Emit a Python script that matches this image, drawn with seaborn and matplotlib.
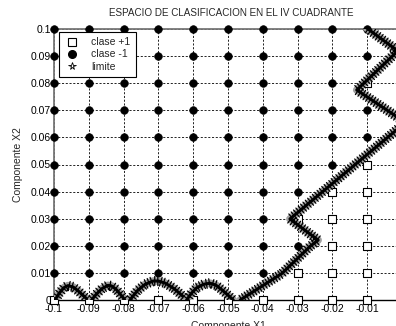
import numpy as np
import pandas as pd
import matplotlib
matplotlib.use("Agg")
import matplotlib.pyplot as plt
import seaborn as sns
from matplotlib import patheffects as pe
from matplotlib.lines import Line2D

# ---- data ----
x_grid = [-0.1, -0.09, -0.08, -0.07, -0.06, -0.05, -0.04, -0.03, -0.02, -0.01]
y_grid = [0.1, 0.09, 0.08, 0.07, 0.06, 0.05, 0.04, 0.03, 0.02, 0.01, 0.0]
clase = [
    [-1, -1, -1, -1, -1, -1, -1, -1, -1, -1],
    [-1, -1, -1, -1, -1, -1, -1, -1, -1, -1],
    [-1, -1, -1, -1, -1, -1, -1, -1, -1, 1],
    [-1, -1, -1, -1, -1, -1, -1, -1, -1, -1],
    [-1, -1, -1, -1, -1, -1, -1, -1, -1, -1],
    [-1, -1, -1, -1, -1, -1, -1, -1, -1, 1],
    [-1, -1, -1, -1, -1, -1, -1, -1, 1, 1],
    [-1, -1, -1, -1, -1, -1, -1, 1, 1, 1],
    [-1, -1, -1, -1, -1, -1, -1, -1, 1, 1],
    [-1, -1, -1, -1, -1, -1, -1, 1, 1, 1],
    [1, 1, 1, 1, 1, 1, 1, 1, 1, 1],
]

lim1_x = [-0.0997, -0.0985, -0.0972, -0.0960, -0.0945, -0.0930, -0.0915, -0.0902]
lim1_y = [0.0, 0.0025, 0.0045, 0.0053, 0.0048, 0.0033, 0.0015, 0.0]
lim2_x = [-0.0892, -0.0878, -0.0862, -0.0845, -0.0835, -0.0822, -0.0810, -0.0796]
lim2_y = [0.0, 0.0022, 0.0042, 0.0054, 0.0052, 0.0040, 0.0022, 0.0]
lim3_x = [-0.0782, -0.0760, -0.0738, -0.0715, -0.0700, -0.0680, -0.0655, -0.0635, -0.0618]
lim3_y = [0.0, 0.0035, 0.0058, 0.0070, 0.0070, 0.0062, 0.0042, 0.0020, 0.0]
lim4_x = [-0.0619, -0.0605, -0.0590, -0.0570, -0.0552, -0.0535, -0.0518, -0.0500, -0.0485]
lim4_y = [0.0, 0.0025, 0.0045, 0.0058, 0.0062, 0.0055, 0.0038, 0.0018, 0.0]
lim5_x = [-0.0465, -0.0345, -0.0264, -0.0241, -0.0322, 0.0010, -0.0130, -0.0012, -0.0101]
lim5_y = [0.0, 0.0098, 0.0198, 0.0221, 0.0299, 0.0655, 0.0775, 0.0919, 0.1003]

x_ticks = [-0.1, -0.09, -0.08, -0.07, -0.06, -0.05, -0.04, -0.03, -0.02, -0.01]
x_ticklabels = ["-0.1", "-0.09", "-0.08", "-0.07", "-0.06", "-0.05", "-0.04",
                "-0.03", "-0.02", "-0.01"]
y_ticks = [0.0, 0.01, 0.02, 0.03, 0.04, 0.05, 0.06, 0.07, 0.08, 0.09, 0.1]
y_ticklabels = ["0", "0.01", "0.02", "0.03", "0.04", "0.05", "0.06", "0.07",
                "0.08", "0.09", "0.1"]

# ---- tables ----
rows = []
for yi, yv in enumerate(y_grid):
    for xi, xv in enumerate(x_grid):
        rows.append({"x": xv, "y": yv, "clase": clase[yi][xi]})
pts = pd.DataFrame(rows)

pieces = [(lim1_x, lim1_y), (lim2_x, lim2_y), (lim3_x, lim3_y),
          (lim4_x, lim4_y), (lim5_x, lim5_y)]
lim_rows = []
for k, (px, py) in enumerate(pieces):
    for i, (a, b) in enumerate(zip(px, py)):
        lim_rows.append({"x": a, "y": b, "pieza": k, "orden": i})
lim = pd.DataFrame(lim_rows)

# ---- figure ----
sns.set_style("white")
plt.rcParams["font.family"] = ["Liberation Sans", "DejaVu Sans"]

fig = plt.figure(figsize=(3.96, 3.26), dpi=100)
ax = fig.add_axes([54 / 396, 26 / 326, 348 / 396, 271 / 326])
ax.set_xlim(-0.1, 0.0)
ax.set_ylim(0.0, 0.1)

ax.set_xticks(x_ticks)
ax.set_xticklabels(x_ticklabels)
ax.set_yticks(y_ticks)
ax.set_yticklabels(y_ticklabels)
ax.tick_params(axis="both", labelsize=7.5, length=0, colors="black")
ax.tick_params(axis="x", pad=3)
ax.tick_params(axis="y", pad=2)
ax.grid(True, color="black", linestyle=(0, (2.5, 2.0)), linewidth=0.6)
ax.set_axisbelow(True)

for side, sp in ax.spines.items():
    sp.set_visible(True)
    sp.set_linewidth(1.3)
    sp.set_color("#777777")
ax.spines["bottom"].set_color("black")
ax.spines["bottom"].set_linewidth(1.0)

neg = pts[pts["clase"] == -1]
pos = pts[pts["clase"] == 1]
sns.scatterplot(data=neg, x="x", y="y", ax=ax, marker="o", s=30,
                color="black", edgecolor="black", linewidth=0.5,
                zorder=3, clip_on=False, legend=False)
sns.scatterplot(data=pos, x="x", y="y", ax=ax, marker="s", s=34,
                facecolor="white", edgecolor="black", linewidth=0.8,
                zorder=3, clip_on=False, legend=False)

effects = [
    pe.Stroke(linewidth=5.5, foreground="#a0a0a0"),
    pe.TickedStroke(spacing=2.2, angle=90, length=1.5, linewidth=0.9, foreground="black"),
    pe.TickedStroke(spacing=2.2, angle=-90, length=1.5, linewidth=0.9, foreground="black"),
    pe.Normal(),
]
sns.lineplot(data=lim, x="x", y="y", units="pieza", estimator=None, sort=False,
             ax=ax, color="black", linewidth=2.2, zorder=4, legend=False,
             path_effects=effects)

ax.set_xlabel("Componente X1", fontsize=7.5, labelpad=5)
ax.set_ylabel("Componente X2", fontsize=7.5, labelpad=6)
ax.set_title("ESPACIO DE CLASIFICACION EN EL IV CUADRANTE", fontsize=7.1, pad=9,
             x=0.51)

handles = [
    Line2D([], [], linestyle="none", marker="s", markersize=5.5,
           markerfacecolor="white", markeredgecolor="black", markeredgewidth=0.8),
    Line2D([], [], linestyle="none", marker="o", markersize=5.5,
           markerfacecolor="black", markeredgecolor="black"),
    Line2D([], [], linestyle="none", marker="*", markersize=5.5,
           markerfacecolor="white", markeredgecolor="black", markeredgewidth=0.6),
]
leg = ax.legend(handles, ["clase +1", "clase -1", "limite"], loc="upper left",
                bbox_to_anchor=(0.014, 0.989), borderaxespad=0, fontsize=7.5,
                frameon=True, fancybox=False, framealpha=1, edgecolor="black",
                handlelength=1.6, handletextpad=1.0, borderpad=0.5,
                labelspacing=0.22)
leg.get_frame().set_linewidth(0.8)
leg.set_zorder(10)

fig.savefig("out.png", dpi=100)
